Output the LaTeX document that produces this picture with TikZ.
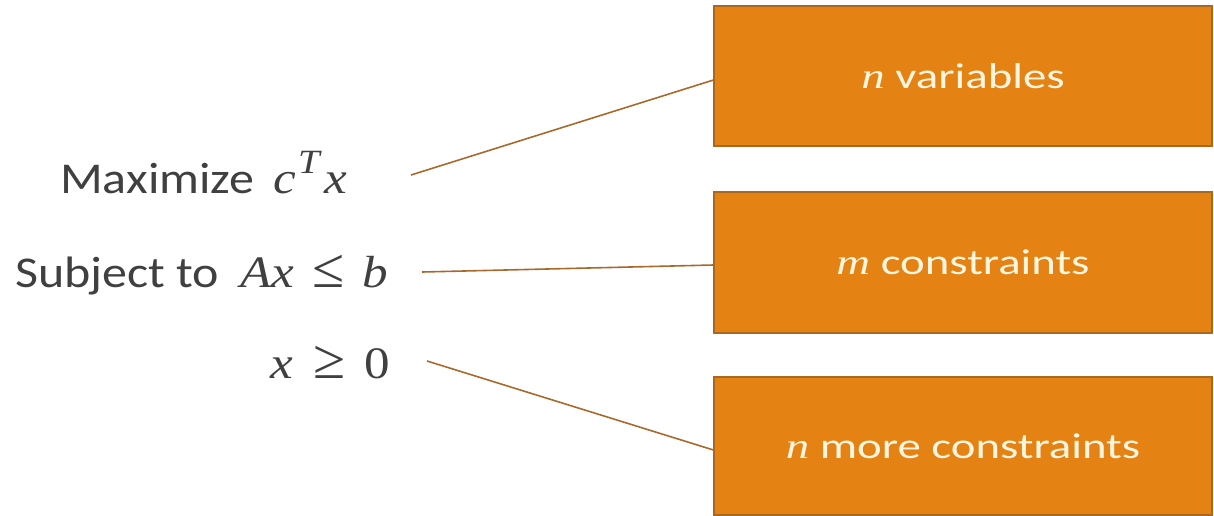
\documentclass[tikz,border=0pt]{standalone}
\usepackage{graphicx}
\usepackage{fontspec}
\setmainfont{Carlito}
\newfontfamily\mfont{Liberation Serif}
\definecolor{boxfill}{HTML}{E48214}
\definecolor{boxline}{HTML}{A9681F}
\definecolor{boxtext}{HTML}{FFF6E0}
\definecolor{lefttext}{HTML}{404040}
\definecolor{conn}{HTML}{A86A2C}
% box text: horizontally widened
\newcommand{\bx}[1]{\scalebox{1.3}[1]{#1}}
\newcommand{\bv}[1]{{\mfont\itshape #1}}
% left text and its math pieces
\newcommand{\sx}[1]{\scalebox{1.136}[1]{\fontsize{44}{52}\selectfont #1}}
\newcommand{\mx}[1]{\scalebox{1.136}[1]{\fontsize{45}{52}\selectfont\mfont\itshape #1}}
\newcommand{\mrm}[1]{\scalebox{1.136}[1]{\fontsize{45}{52}\selectfont\mfont #1}}
\newcommand{\rel}[1]{\scalebox{1.3}[1.25]{\fontsize{45}{52}\selectfont\mfont #1}}
\newcommand{\msup}[1]{\scalebox{1.136}[1]{\fontsize{34}{40}\selectfont\mfont\itshape #1}}
\tikzset{
  orangebox/.style={draw=boxline, line width=1.1pt, fill=boxfill, minimum width=498pt, text=boxtext, inner sep=0pt, font=\fontsize{36}{42}\selectfont},
  lefttxt/.style={anchor=base west, inner sep=0pt, text=lefttext},
  connector/.style={draw=conn, line width=1.6pt}
}
\begin{document}
\begin{tikzpicture}[x=1pt,y=-1pt]
\useasboundingbox (0,0) rectangle (1214,515);
\node[orangebox, minimum height=140pt] (b1) at (963,76) {\bx{\bv{n} variables}};
\node[orangebox, minimum height=141pt] (b2) at (963,262.5) {\bx{\bv{m} constraints}};
\node[orangebox, minimum height=138pt] (b3) at (963,446) {\bx{\bv{n} more constraints}};
\node[lefttxt] (t1) at (60,193) {\sx{Maximize}\hspace{19pt}\mx{c}\hspace{2pt}\raisebox{20pt}{\msup{T}}\hspace{5pt}\mx{x}};
\node[lefttxt] (t2) at (15,287) {\sx{Subject to}\hspace{21pt}\mx{Ax}\hspace{18pt}\rel{≤}\hspace{18pt}\mx{b}};
\node[lefttxt] (t3) at (270,378) {\mx{x}\hspace{21pt}\rel{≥}\hspace{18pt}\mrm{0}};
\coordinate (s1) at (411,175);
\coordinate (s2) at (422,272);
\coordinate (s3) at (427,361);
\draw[connector] (s1) -- ([yshift=-4pt]b1.west);
\draw[connector] (s2) -- ([yshift=-2.5pt]b2.west);
\draw[connector] (s3) -- ([yshift=-4pt]b3.west);
\end{tikzpicture}
\end{document}
